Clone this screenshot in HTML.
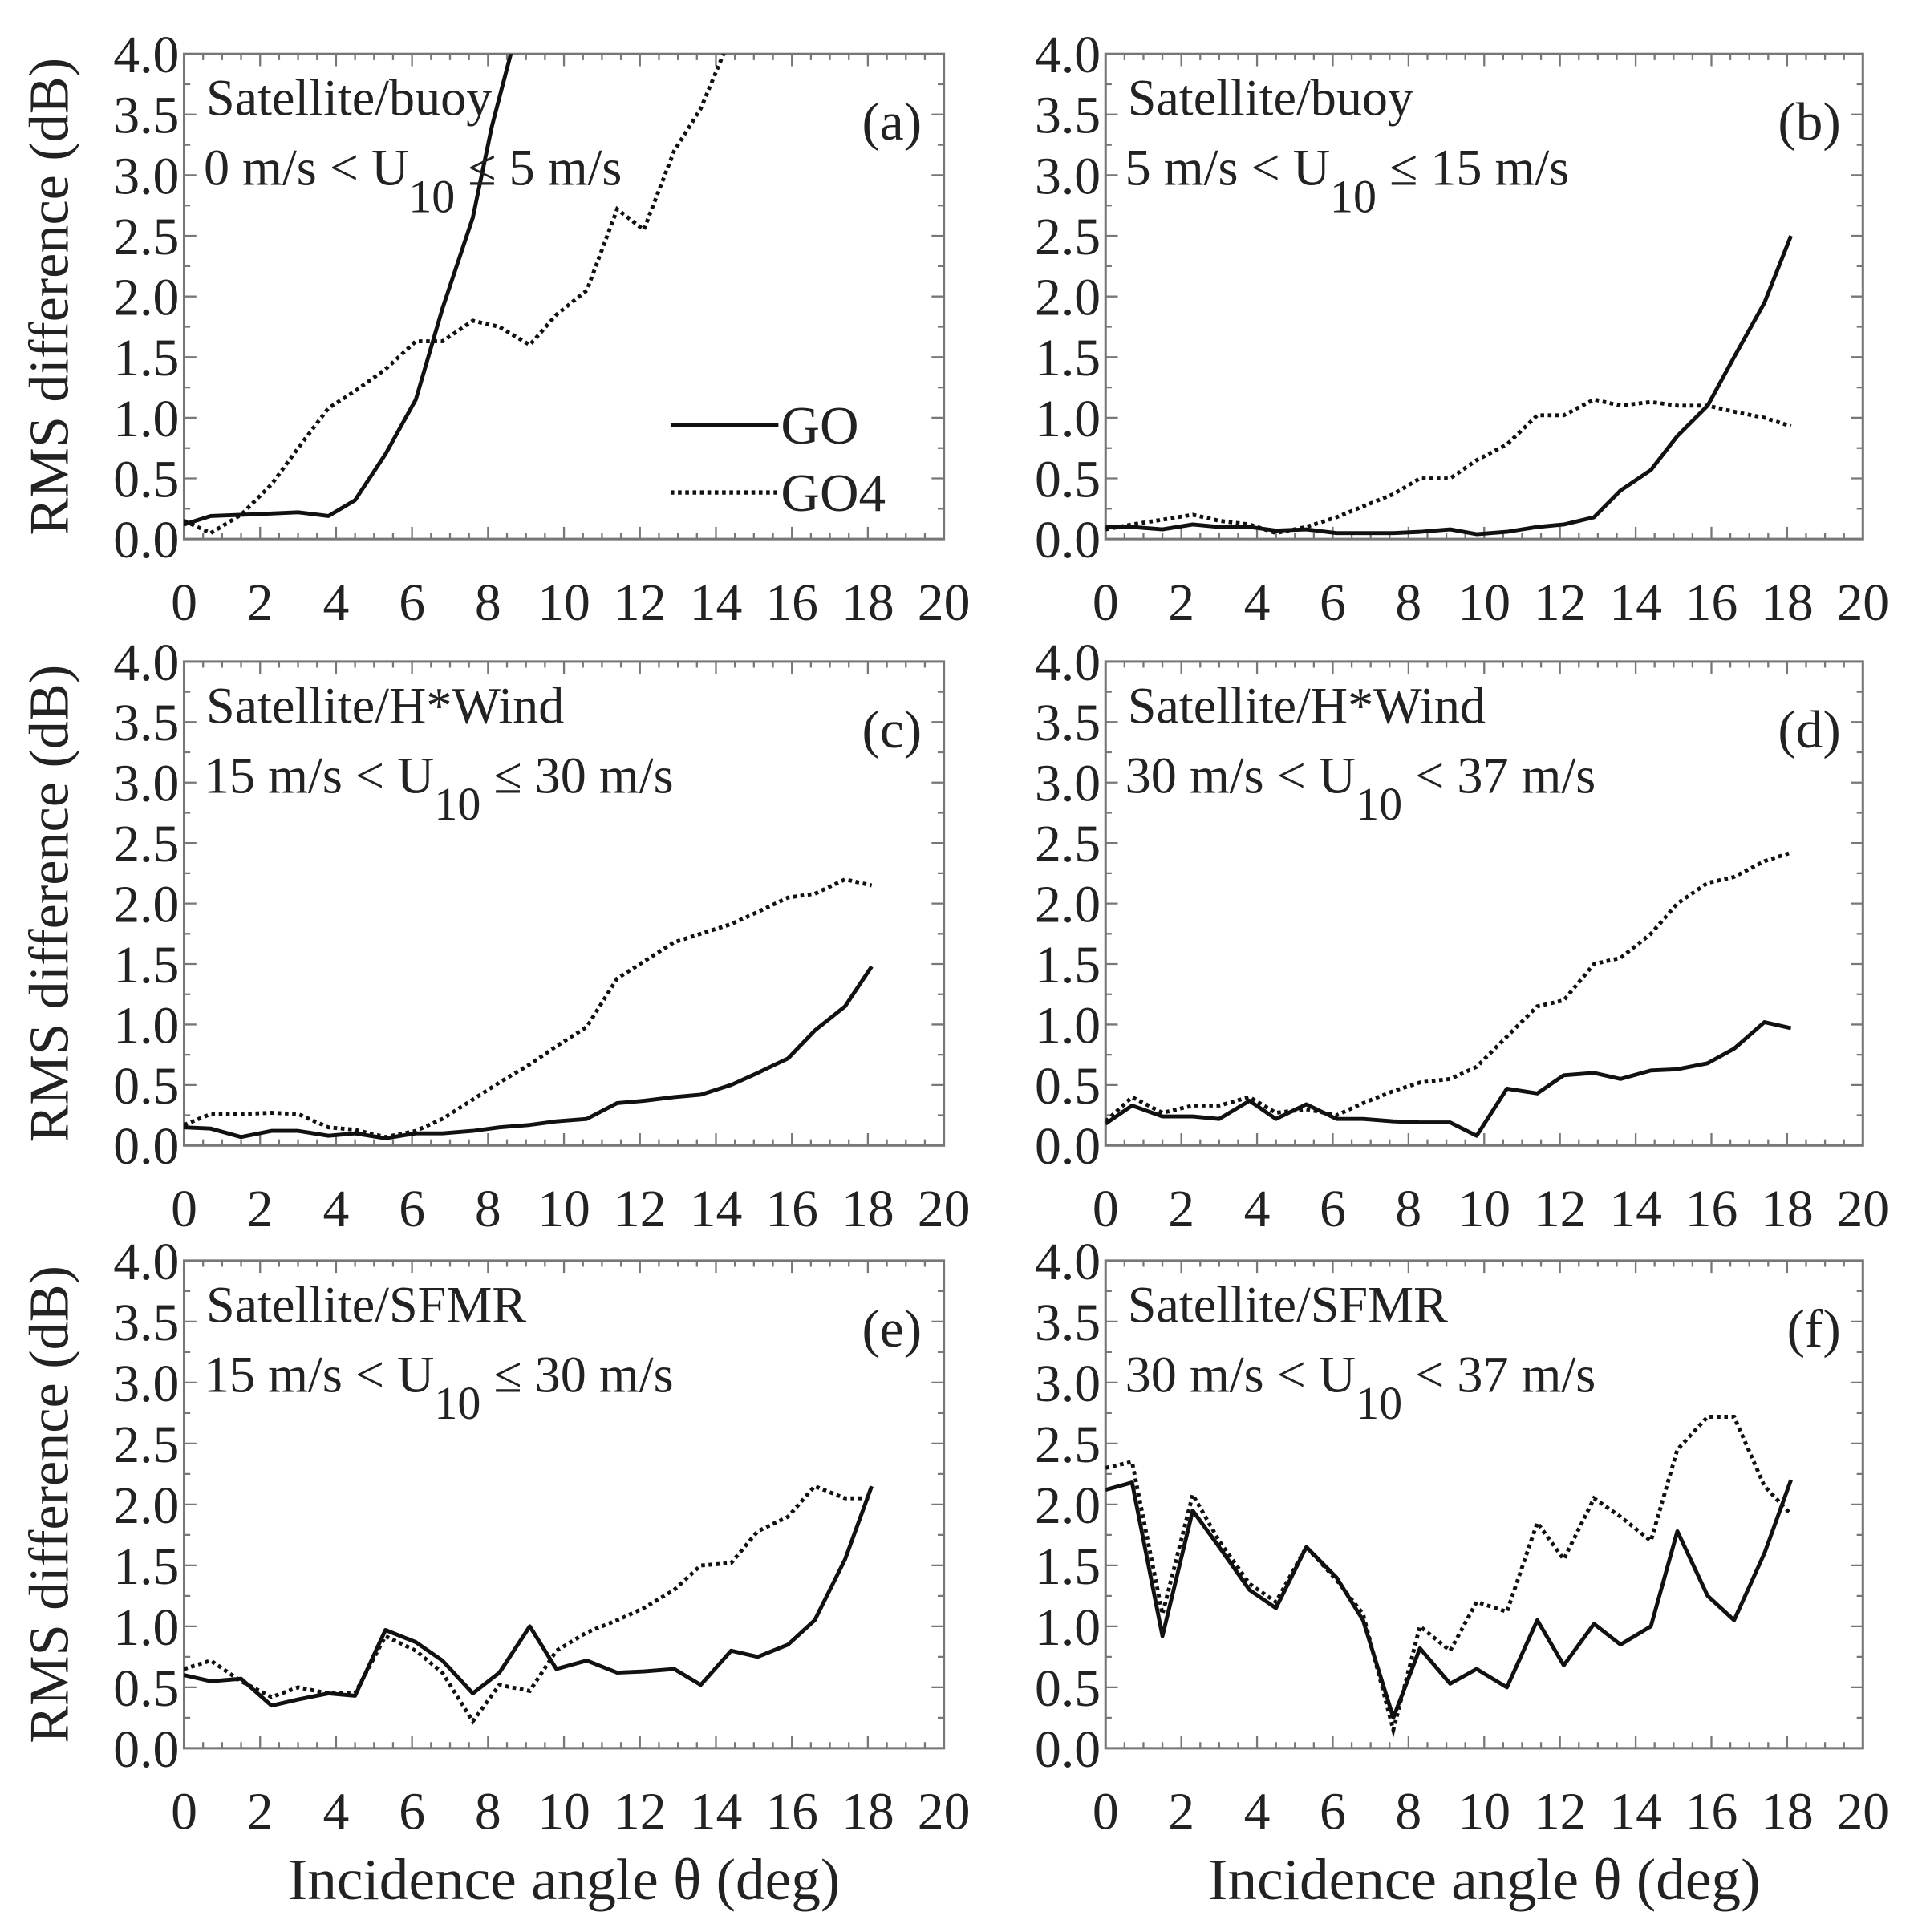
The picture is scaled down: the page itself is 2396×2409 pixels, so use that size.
<!DOCTYPE html>
<html><head><meta charset="utf-8"><style>
html,body{margin:0;padding:0;background:#fff;}
svg{display:block;}
text{font-family:"Liberation Serif","DejaVu Serif",serif;fill:#222;}
</style></head><body>
<svg id="s" width="2396" height="2409" viewBox="0 0 1568 1577" xmlns="http://www.w3.org/2000/svg"></svg>
<script>
const S=document.getElementById('s');let h='';
const P=[
{l:150,r:770,t:44,b:440,lab:'(a)',t1:'Satellite/buoy',pre:'0 m/s < U',post:' ≤ 5 m/s',yt:true,
go:[[0,.12],[.7,.19],[1.5,.2],[2.3,.21],[3,.22],[3.8,.19],[4.5,.32],[5.3,.7],[6.1,1.15],[6.8,1.9],[7.6,2.65],[8.1,3.4],[8.6,4.0],[8.8,4.3]],
g4:[[0,.15],[.7,.05],[1.5,.2],[2.3,.45],[3,.75],[3.8,1.08],[4.5,1.22],[5.3,1.4],[6.1,1.63],[6.8,1.63],[7.6,1.8],[8.3,1.75],[9.1,1.6],[9.8,1.85],[10.6,2.05],[11.4,2.72],[12.1,2.55],[12.9,3.2],[13.6,3.55],[14.2,4.0],[14.4,4.2]]},
{l:902,r:1520,t:44,b:440,lab:'(b)',t1:'Satellite/buoy',pre:'5 m/s < U',post:' ≤ 15 m/s',
go:[[0,.1],[.7,.1],[1.5,.08],[2.3,.12],[3,.1],[3.8,.1],[4.5,.07],[5.3,.08],[6.1,.05],[6.8,.05],[7.6,.05],[8.3,.06],[9.1,.08],[9.8,.04],[10.6,.06],[11.4,.1],[12.1,.12],[12.9,.18],[13.6,.4],[14.4,.57],[15.1,.85],[15.9,1.1],[16.6,1.5],[17.4,1.95],[18.1,2.5]],
g4:[[0,.08],[.7,.12],[1.5,.16],[2.3,.2],[3,.15],[3.8,.12],[4.5,.05],[5.3,.1],[6.1,.18],[6.8,.27],[7.6,.37],[8.3,.5],[9.1,.5],[9.8,.65],[10.6,.78],[11.4,1.02],[12.1,1.02],[12.9,1.15],[13.6,1.1],[14.4,1.13],[15.1,1.1],[15.9,1.1],[16.6,1.05],[17.4,1.0],[18.1,.93]]},
{l:150,r:770,t:540,b:935,lab:'(c)',t1:'Satellite/H*Wind',pre:'15 m/s < U',post:' ≤ 30 m/s',yt:true,
go:[[0,.15],[.7,.14],[1.5,.07],[2.3,.12],[3,.12],[3.8,.08],[4.5,.1],[5.3,.06],[6.1,.1],[6.8,.1],[7.6,.12],[8.3,.15],[9.1,.17],[9.8,.2],[10.6,.22],[11.4,.35],[12.1,.37],[12.9,.4],[13.6,.42],[14.4,.5],[15.1,.6],[15.9,.72],[16.6,.95],[17.4,1.15],[18.1,1.48]],
g4:[[0,.17],[.7,.26],[1.5,.26],[2.3,.27],[3,.26],[3.8,.15],[4.5,.13],[5.3,.07],[6.1,.12],[6.8,.22],[7.6,.38],[8.3,.52],[9.1,.67],[9.8,.82],[10.6,.98],[11.4,1.38],[12.1,1.52],[12.9,1.68],[13.6,1.75],[14.4,1.83],[15.1,1.93],[15.9,2.05],[16.6,2.08],[17.4,2.2],[18.1,2.15]]},
{l:902,r:1520,t:540,b:935,lab:'(d)',t1:'Satellite/H*Wind',pre:'30 m/s < U',post:' < 37 m/s',
go:[[0,.18],[.7,.33],[1.5,.24],[2.3,.24],[3,.22],[3.8,.37],[4.5,.22],[5.3,.34],[6.1,.22],[6.8,.22],[7.6,.2],[8.3,.19],[9.1,.19],[9.8,.08],[10.6,.47],[11.4,.43],[12.1,.58],[12.9,.6],[13.6,.55],[14.4,.62],[15.1,.63],[15.9,.68],[16.6,.8],[17.4,1.02],[18.1,.97]],
g4:[[0,.2],[.7,.4],[1.5,.27],[2.3,.33],[3,.33],[3.8,.4],[4.5,.27],[5.3,.3],[6.1,.25],[6.8,.35],[7.6,.45],[8.3,.52],[9.1,.55],[9.8,.65],[10.6,.9],[11.4,1.15],[12.1,1.2],[12.9,1.5],[13.6,1.55],[14.4,1.75],[15.1,2.0],[15.9,2.17],[16.6,2.22],[17.4,2.35],[18.1,2.42]]},
{l:150,r:770,t:1029,b:1427,lab:'(e)',t1:'Satellite/SFMR',pre:'15 m/s < U',post:' ≤ 30 m/s',yt:true,xt:true,
go:[[0,.6],[.7,.55],[1.5,.57],[2.3,.35],[3,.4],[3.8,.45],[4.5,.43],[5.3,.97],[6.1,.87],[6.8,.72],[7.6,.45],[8.3,.62],[9.1,1.0],[9.8,.65],[10.6,.72],[11.4,.62],[12.1,.63],[12.9,.65],[13.6,.52],[14.4,.8],[15.1,.75],[15.9,.85],[16.6,1.05],[17.4,1.55],[18.1,2.15]],
g4:[[0,.65],[.7,.72],[1.5,.55],[2.3,.42],[3,.5],[3.8,.45],[4.5,.45],[5.3,.92],[6.1,.8],[6.8,.62],[7.6,.22],[8.3,.52],[9.1,.47],[9.8,.8],[10.6,.95],[11.4,1.05],[12.1,1.15],[12.9,1.3],[13.6,1.5],[14.4,1.52],[15.1,1.78],[15.9,1.9],[16.6,2.15],[17.4,2.05],[18.1,2.05]]},
{l:902,r:1520,t:1029,b:1427,lab:'(f)',t1:'Satellite/SFMR',pre:'30 m/s < U',post:' < 37 m/s',xt:true,
go:[[0,2.12],[.7,2.18],[1.5,.92],[2.3,1.95],[3,1.65],[3.8,1.3],[4.5,1.15],[5.3,1.65],[6.1,1.4],[6.8,1.05],[7.6,.25],[8.3,.82],[9.1,.53],[9.8,.65],[10.6,.5],[11.4,1.05],[12.1,.68],[12.9,1.02],[13.6,.85],[14.4,1.0],[15.1,1.78],[15.9,1.25],[16.6,1.05],[17.4,1.6],[18.1,2.2]],
g4:[[0,2.3],[.7,2.35],[1.5,1.1],[2.3,2.08],[3,1.7],[3.8,1.35],[4.5,1.2],[5.3,1.65],[6.1,1.38],[6.8,1.1],[7.6,.15],[8.3,1.0],[9.1,.8],[9.8,1.2],[10.6,1.12],[11.4,1.85],[12.1,1.55],[12.9,2.05],[13.6,1.9],[14.4,1.7],[15.1,2.45],[15.9,2.72],[16.6,2.72],[17.4,2.15],[18.1,1.92]]}
];
P.forEach((p,i)=>{
 const X=v=>p.l+v/20*(p.r-p.l),Y=v=>p.b-v/4*(p.b-p.t);
 h+=`<clipPath id="c${i}"><rect x="${p.l}" y="${p.t}" width="${p.r-p.l}" height="${p.b-p.t}"/></clipPath>`;
 let tk='';
 for(let k=0;k<=40;k++){const x=X(k/2),L=k%4==0?10:5;tk+=`M${x} ${p.b}v${-L}M${x} ${p.t}v${L}`;}
 for(let k=0;k<=16;k++){const y=Y(k/4),L=k%2==0?10:5;tk+=`M${p.l} ${y}h${L}M${p.r} ${y}h${-L}`;}
 h+=`<path d="${tk}" stroke="#777" stroke-width="1.5" fill="none"/>`;
 h+=`<rect x="${p.l}" y="${p.t}" width="${p.r-p.l}" height="${p.b-p.t}" fill="none" stroke="#777" stroke-width="2"/>`;
 for(let k=0;k<=8;k++) h+=`<text x="${p.l-4}" y="${Y(k/2)+15}" font-size="43" text-anchor="end">${(k/2).toFixed(1)}</text>`;
 for(let k=0;k<=10;k++) h+=`<text x="${X(2*k)}" y="${p.b+66}" font-size="43" text-anchor="middle">${2*k}</text>`;
 const pt=a=>a.map(q=>X(q[0]).toFixed(1)+','+Y(q[1]).toFixed(1)).join(' ');
 h+=`<g clip-path="url(#c${i})"><polyline points="${pt(p.go)}" fill="none" stroke="#111" stroke-width="3.2" stroke-linejoin="round"/>`;
 h+=`<polyline points="${pt(p.g4)}" fill="none" stroke="#111" stroke-width="3.2" stroke-dasharray="3,3"/></g>`;
 h+=`<text x="${p.l+18}" y="${p.t+50}" font-size="42">${p.t1}</text>`;
 h+=`<text x="${p.l+16}" y="${p.t+107}" font-size="42">${p.pre.replace('<','&lt;')}<tspan dy="22" font-size="38">10</tspan><tspan dy="-22">${p.post.replace('<','&lt;')}</tspan></text>`;
 h+=`<text x="${p.r-18}" y="${p.t+70}" font-size="44" text-anchor="end">${p.lab}</text>`;
 if(p.yt) h+=`<text transform="translate(${p.l-95},${(p.t+p.b)/2}) rotate(-90)" font-size="46" text-anchor="middle">RMS difference (dB)</text>`;
 if(p.xt) h+=`<text x="${(p.l+p.r)/2}" y="1550" font-size="48" text-anchor="middle">Incidence angle θ (deg)</text>`;
});
h+=`<line x1="547" y1="347" x2="635" y2="347" stroke="#111" stroke-width="3.5"/><text x="637" y="362" font-size="44">GO</text>`;
h+=`<line x1="547" y1="402" x2="635" y2="402" stroke="#111" stroke-width="3.5" stroke-dasharray="3,3"/><text x="637" y="417" font-size="44">GO4</text>`;
S.innerHTML=h;
</script>
</body></html>
